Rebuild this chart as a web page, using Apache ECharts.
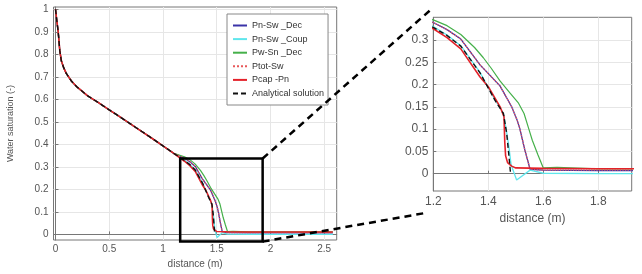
<!DOCTYPE html>
<html><head><meta charset="utf-8">
<script src="https://cdn.jsdelivr.net/npm/echarts@6/dist/echarts.min.js"></script>
<style>html,body{margin:0;padding:0;background:#fff}#c{width:642px;height:274px}</style>
</head><body><div id="c"></div>
<script>
// ---- data ----
const seriesNames = ['Pn-Sw _Dec', 'Pn-Sw _Coup', 'Pw-Sn _Dec', 'Ptot-Sw', 'Pcap -Pn', 'Analytical solution'];
// common part of all profiles (x in m, water saturation)
const headX = [0, 0.012, 0.025, 0.04, 0.055, 0.075, 0.1, 0.15, 0.2, 0.3, 0.4, 0.5, 0.6, 0.7, 0.8, 0.9, 1.0, 1.1];
const headY = [1.0, 0.95, 0.9, 0.815, 0.77, 0.742, 0.715, 0.68, 0.655, 0.615, 0.585, 0.553, 0.522, 0.49, 0.458, 0.426, 0.393, 0.36];
// front parts
const pnSwDecX = [1.2, 1.25, 1.3, 1.37, 1.4425, 1.485, 1.505, 1.515, 1.533, 1.552, 1.6, 1.8, 2.0, 2.2, 2.4, 2.58];
const pnSwDecY = [0.339, 0.323, 0.302, 0.244, 0.197, 0.15, 0.12, 0.1, 0.053, 0.01, 0.008, 0.007, 0.007, 0.007, 0.007, 0.007];
const pnSwCoupX = [1.2, 1.25, 1.3, 1.37, 1.424, 1.455, 1.465, 1.475, 1.483, 1.503, 1.552, 1.6, 1.8, 2.0, 2.2, 2.4, 2.58];
const pnSwCoupY = [0.33, 0.311, 0.287, 0.227, 0.166, 0.135, 0.1, 0.06, 0.02, -0.014, 0.008, 0.001, 0.0, 0.0, 0.0, 0.0, 0.0];
const pwSnDecX = [1.2, 1.25, 1.3, 1.35, 1.382, 1.41, 1.4425, 1.48, 1.51, 1.53, 1.545, 1.56, 1.58, 1.6, 1.65, 1.8, 2.0, 2.2, 2.4, 2.58];
const pwSnDecY = [0.345, 0.332, 0.312, 0.283, 0.26, 0.237, 0.208, 0.18, 0.158, 0.135, 0.105, 0.075, 0.043, 0.013, 0.014, 0.011, 0.011, 0.011, 0.011, 0.011];
const ptotSwX = [1.2, 1.25, 1.3, 1.37, 1.4425, 1.485, 1.505, 1.515, 1.533, 1.552, 1.6, 1.8, 2.0, 2.2, 2.4, 2.58];
const ptotSwY = [0.339, 0.323, 0.302, 0.244, 0.197, 0.15, 0.12, 0.1, 0.053, 0.01, 0.008, 0.008, 0.008, 0.008, 0.008, 0.008];
const pcapPnX = [1.2, 1.25, 1.3, 1.37, 1.4, 1.443, 1.457, 1.46, 1.463, 1.47, 1.485, 1.5, 1.6, 1.8, 2.0, 2.2, 2.4, 2.58];
const pcapPnY = [0.325, 0.305, 0.28, 0.217, 0.195, 0.15, 0.128, 0.07, 0.04, 0.025, 0.017, 0.013, 0.012, 0.011, 0.011, 0.011, 0.011, 0.011];
const analyticX = [1.2, 1.25, 1.3, 1.37, 1.424, 1.455, 1.467, 1.475, 1.481];
const analyticY = [0.328, 0.31, 0.286, 0.226, 0.165, 0.135, 0.09, 0.04, 0.0];
// tick labels
const mainXTicks = [0, 0.5, 1, 1.5, 2, 2.5];
const mainYTicks = [0, 0.1, 0.2, 0.3, 0.4, 0.5, 0.6, 0.7, 0.8, 0.9, 1];
const zoomXTicks = [1.2, 1.4, 1.6, 1.8];
const zoomYTicks = [0, 0.05, 0.1, 0.15, 0.2, 0.25, 0.3];
// zoom box region (data coords of main plot)
const boxX = [1.16, 1.927];
const boxY = [-0.032, 0.337];

// ---- build ----
function pairs(xs, ys) { return xs.map((x, i) => [x, ys[i]]); }
const full = [
  pairs(headX.concat(pnSwDecX), headY.concat(pnSwDecY)),
  pairs(headX.concat(pnSwCoupX), headY.concat(pnSwCoupY)),
  pairs(headX.concat(pwSnDecX), headY.concat(pwSnDecY)),
  pairs(headX.concat(ptotSwX), headY.concat(ptotSwY)),
  pairs(headX.concat(pcapPnX), headY.concat(pcapPnY)),
  pairs(headX.concat(analyticX), headY.concat(analyticY))
];
const styles = [
  { color: '#3a33a8', width: 1.3, type: 'solid' },
  { color: '#5fe6ec', width: 1.3, type: 'solid' },
  { color: '#45b04a', width: 1.2, type: 'solid' },
  { color: '#e8585a', width: 1.3, type: 'dotted' },
  { color: '#e4222a', width: 1.6, type: 'solid' },
  { color: '#111111', width: 1.4, type: [5, 3] }
];
const FONT = 'Liberation Sans';
const series = [];
[0, 1].forEach(g => {
  full.forEach((d, i) => {
    series.push({
      name: seriesNames[i], type: 'line', xAxisIndex: g, yAxisIndex: g,
      data: d, symbol: 'none', silent: true, clip: true, animation: false,
      color: styles[i].color,
      lineStyle: { color: styles[i].color, width: styles[i].width, type: styles[i].type }
    });
  });
});
function axisCommon(custom, fs, margin) {
  return {
    axisLine: { show: true, lineStyle: { color: '#777', width: 1 } },
    axisTick: { show: true, inside: true, length: 3, customValues: custom, lineStyle: { color: '#777' } },
    axisLabel: { customValues: custom, color: '#555', fontFamily: FONT, fontSize: fs, margin: margin, formatter: v => String(+v.toFixed(3)) },
    splitLine: { show: true, lineStyle: { color: '#e6e6e6', width: 1 } }
  };
}
const option = {
  animation: false,
  backgroundColor: '#fff',
  grid: [
    { left: 53.5, top: 7, width: 283.2, height: 238, show: true, borderColor: '#777', borderWidth: 1 },
    { left: 433.3, top: 17.3, width: 198.4, height: 173.7, show: true, borderColor: '#777', borderWidth: 1 }
  ],
  xAxis: [
    Object.assign({ type: 'value', gridIndex: 0, min: -0.0186, max: 2.616,
      name: 'distance (m)', nameLocation: 'middle', nameGap: 19,
      nameTextStyle: { color: '#555', fontFamily: FONT, fontSize: 10 } }, axisCommon(mainXTicks, 10, 4)),
    Object.assign({ type: 'value', gridIndex: 1, min: 1.2, max: 1.9215,
      name: 'distance (m)', nameLocation: 'middle', nameGap: 22,
      nameTextStyle: { color: '#555', fontFamily: FONT, fontSize: 12 } }, axisCommon(zoomXTicks, 12, 5))
  ],
  yAxis: [
    Object.assign({ type: 'value', gridIndex: 0, min: -0.0248, max: 1.01,
      name: 'Water saturation (-)', nameLocation: 'middle', nameGap: 38,
      nameTextStyle: { color: '#555', fontFamily: FONT, fontSize: 9 } }, axisCommon(mainYTicks, 10, 5)),
    Object.assign({ type: 'value', gridIndex: 1, min: -0.0388, max: 0.3507 }, axisCommon(zoomYTicks, 12, 5))
  ],
  legend: {
    data: seriesNames, orient: 'vertical', left: 227, top: 14,
    padding: [7, 4, 7, 5], itemGap: 4.6, itemWidth: 14, itemHeight: 10,
    backgroundColor: '#fff', borderColor: '#888', borderWidth: 1,
    itemStyle: { opacity: 0 },
    textStyle: { color: '#333', fontFamily: FONT, fontSize: 9 },
    selectedMode: false
  },
  series: series
};
const chart = echarts.init(document.getElementById('c'), null, { renderer: 'canvas' });
chart.setOption(option);

const p1 = chart.convertToPixel({ gridIndex: 0 }, [boxX[0], boxY[1]]);
const p2 = chart.convertToPixel({ gridIndex: 0 }, [boxX[1], boxY[0]]);
const zTL = chart.convertToPixel({ gridIndex: 1 }, [1.2, 0.3507]);
const zBL = chart.convertToPixel({ gridIndex: 1 }, [1.2, -0.0388]);
chart.setOption({
  graphic: [
    { type: 'rect', shape: { x: p1[0], y: p1[1], width: p2[0] - p1[0], height: p2[1] - p1[1] },
      style: { fill: 'none', stroke: '#000', lineWidth: 2.5 }, z: 100 },
    { type: 'line', shape: { x1: p2[0], y1: p1[1], x2: zTL[0] - 1, y2: zTL[1] - 9 },
      style: { stroke: '#000', lineWidth: 2.5, lineDash: [7, 5] }, z: 100 },
    { type: 'line', shape: { x1: p2[0], y1: p2[1], x2: zBL[0] - 8, y2: zBL[1] + 22 },
      style: { stroke: '#000', lineWidth: 2.5, lineDash: [7, 5] }, z: 100 }
  ]
});
</script></body></html>
